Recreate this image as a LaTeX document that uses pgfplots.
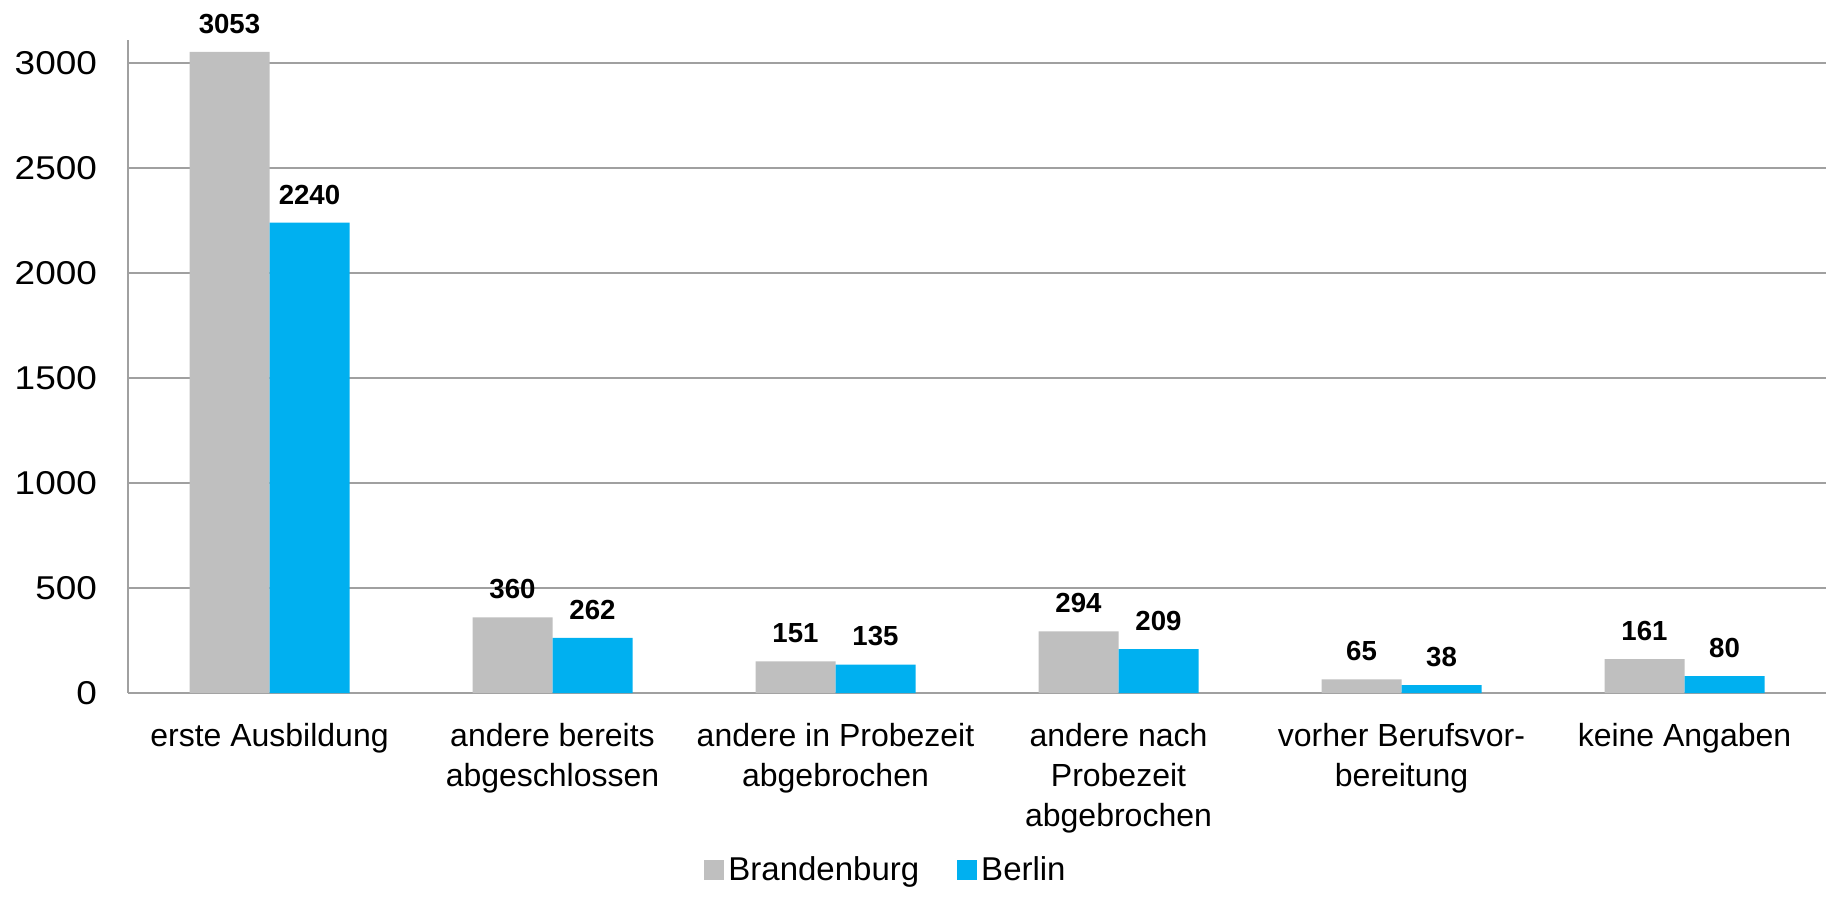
\documentclass[border=0pt]{standalone}
\usepackage{pgfplots}
\pgfplotsset{compat=1.18}
\usepackage{fontspec}
\setmainfont{Liberation Sans}
\newfontfamily\tickfont[FakeStretch=1.12]{Liberation Sans}
\newfontfamily\labelbold[FakeStretch=1.0]{Liberation Sans Bold}
\definecolor{bgray}{HTML}{BFBFBF}
\definecolor{bblue}{HTML}{00B0F0}
\definecolor{gridc}{HTML}{A0A0A0}
\begin{document}
\begin{tikzpicture}
\useasboundingbox (-64pt,-103.5pt) rectangle (854pt,346.5pt);
\begin{axis}[
  scale only axis,
  width=849pt, height=326.5pt,
  ybar=0pt, bar width=40pt,
  xmin=-0.5, xmax=5.5,
  ymin=0, ymax=3110,
  ytick={0,500,1000,1500,2000,2500,3000},
  xtick=data,
  xticklabels={erste Ausbildung,{andere bereits\\abgeschlossen},{andere in Probezeit\\abgebrochen},{andere nach\\Probezeit\\abgebrochen},{vorher Berufsvor-\\bereitung},keine Angaben},
  axis x line*=bottom, axis y line*=left,
  axis line style={gridc, line width=1pt, -},
  major tick length=0pt,
  ymajorgrids, grid style={gridc, line width=1pt},
  /pgf/number format/assume math mode=true,
  /pgf/number format/1000 sep={},
  yticklabel style={font=\tickfont\fontsize{16.5}{18}\selectfont, anchor=east, xshift=-12pt},
  xticklabel style={font=\fontsize{16}{20}\selectfont, align=center, anchor=north, yshift=-11.5pt},
  nodes near coords,
  nodes near coords style={font=\labelbold\fontsize{13.8}{15}\selectfont, anchor=south, inner sep=0pt, yshift=9pt, black},
  clip=false,
  legend columns=2,
  legend style={at={(0.447,-0.271)}, anchor=center, draw=none, font=\fontsize{16.5}{18}\selectfont,
    /tikz/every even column/.append style={column sep=17pt}},
  legend image code/.code={\fill[#1] (-1pt,-5pt) rectangle (9pt,5pt);},
]
\addplot[fill=bgray, draw=none] coordinates {(0,3053) (1,360) (2,151) (3,294) (4,65) (5,161)};
\addplot[fill=bblue, draw=none] coordinates {(0,2240) (1,262) (2,135) (3,209) (4,38) (5,80)};
\legend{Brandenburg,Berlin}
\end{axis}
\end{tikzpicture}
\end{document}
